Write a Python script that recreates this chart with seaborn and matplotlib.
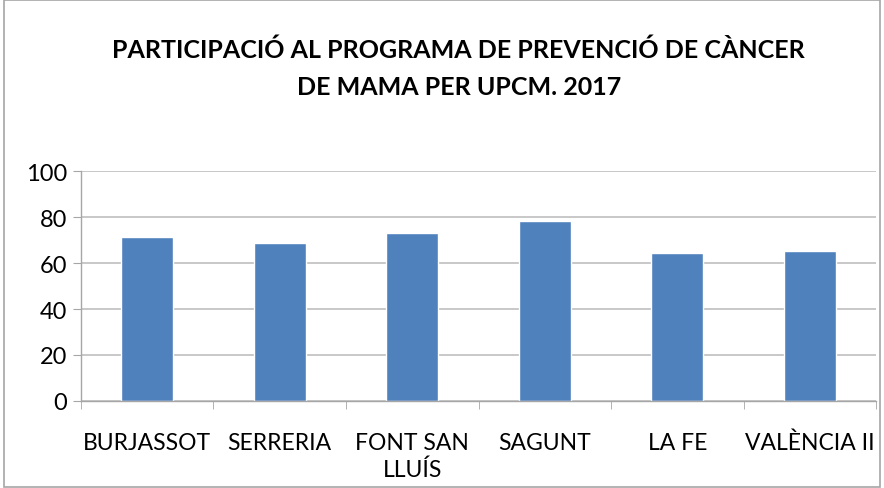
import pandas as pd
import matplotlib.pyplot as plt
import seaborn as sns
from matplotlib.patches import Rectangle

# dades llegides del gràfic
upcm = ['BURJASSOT', 'SERRERIA', 'FONT SAN\nLLUÍS', 'SAGUNT', 'LA FE', 'VALÈNCIA II']
participacio = [71.3, 68.7, 73.0, 78.3, 64.3, 65.2]

df = pd.DataFrame({'upcm': upcm, 'participacio': participacio})

sns.set_style('white')
plt.rcParams['font.family'] = ['Lato', 'DejaVu Sans']
plt.rcParams['text.color'] = 'black'
plt.rcParams['xtick.color'] = 'black'
plt.rcParams['ytick.color'] = 'black'

fig = plt.figure(figsize=(8.84, 4.89), dpi=100)
ax = fig.add_axes([0.0916, 0.178, 0.8994, 0.470])

sns.barplot(data=df, x='upcm', y='participacio', color='#4F81BD', width=0.39,
            saturation=1, ax=ax)

ax.set_ylim(0, 100)
ax.set_xlim(-0.5, len(upcm) - 0.5)
ax.set_yticks(range(0, 101, 20))
ax.grid(axis='y', color='#BFBFBF', linewidth=1.2)
ax.set_axisbelow(True)
ax.set_xlabel('')
ax.set_ylabel('')

for s in ['top', 'right']:
    ax.spines[s].set_visible(False)
for s in ['left', 'bottom']:
    ax.spines[s].set_color('#A6A6A6')
    ax.spines[s].set_linewidth(1.0)

# marques entre categories
ax.set_xticks([i - 0.5 for i in range(len(upcm) + 1)], minor=True)
ax.tick_params(axis='x', which='minor', length=6, color='#A6A6A6', direction='out', bottom=True)
ax.tick_params(axis='x', which='major', length=0, labelsize=16.5, pad=22)
ax.tick_params(axis='y', length=6, color='#A6A6A6', direction='out', left=True,
               labelsize=17, pad=4)
for lbl in ax.get_xticklabels():
    lbl.set_linespacing(1.35)

fig.suptitle('PARTICIPACIÓ AL PROGRAMA DE PREVENCIÓ DE CÀNCER\nDE MAMA PER UPCM. 2017',
             x=0.519, y=0.922, fontsize=18, fontweight='bold', linespacing=1.75)

fig.patches.append(Rectangle((0.004, 0.002), 0.992, 0.996, transform=fig.transFigure,
                             fill=False, edgecolor='#A6A6A6', linewidth=1.2))

fig.savefig('out.png', dpi=100)
